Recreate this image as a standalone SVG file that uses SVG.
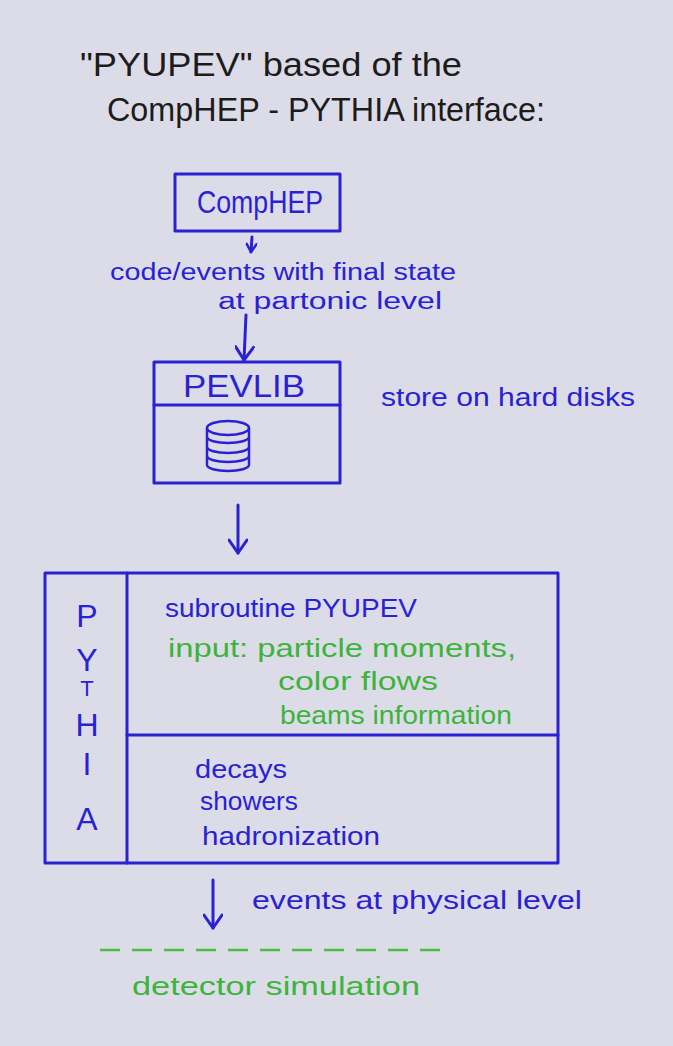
<svg xmlns="http://www.w3.org/2000/svg" width="673" height="1046" viewBox="0 0 673 1046">
<style>
  .bg { fill: #dcdce8; }
  .box { fill: none; stroke: #2a22d2; stroke-width: 3; stroke-linejoin: round; }
  .line { fill: none; stroke: #2a22d2; stroke-width: 3; stroke-linecap: round; }
  .dash { fill: none; stroke: #45c045; stroke-width: 2.5; stroke-dasharray: 20 12; }
  .t { font-family: "Liberation Sans", "DejaVu Sans", sans-serif; }
  .blk { fill: #1c1c1c; font-size: 34px; }
  .blu { fill: #2a22d2; font-size: 26px; }
  .sm { font-size: 23px; }
  .grn { fill: #3cb43c; font-size: 26px; }
  .big { fill: #2a22d2; font-size: 32px; }
</style>
<defs>
  <marker id="ah" viewBox="0 0 12 12" refX="11" refY="6" markerWidth="12" markerHeight="12" markerUnits="userSpaceOnUse" orient="auto">
    <path d="M3,1 L11,6 L3,11" fill="none" stroke="#2a22d2" stroke-width="2.5" stroke-linecap="round" stroke-linejoin="round"/>
  </marker>
  <marker id="ahL" viewBox="0 0 20 20" refX="18" refY="10" markerWidth="20" markerHeight="20" markerUnits="userSpaceOnUse" orient="auto">
    <path d="M5,1 L18,10 L5,19" fill="none" stroke="#2a22d2" stroke-width="3" stroke-linecap="round" stroke-linejoin="round"/>
  </marker>
</defs>
<rect class="bg" x="0" y="0" width="673" height="1046"/>

<g id="title">
  <text class="t blk" x="80" y="76" textLength="382" lengthAdjust="spacingAndGlyphs">"PYUPEV"  based  of  the</text>
  <text class="t blk" x="107" y="121" textLength="438" lengthAdjust="spacingAndGlyphs">CompHEP - PYTHIA  interface:</text>
</g>

<g id="comphep">
  <rect class="box" x="175" y="174" width="165" height="57"/>
  <text class="t big" x="197" y="213" font-size="28" textLength="126" lengthAdjust="spacingAndGlyphs">CompHEP</text>
</g>

<g id="pevlib">
  <rect class="box" x="154" y="362" width="186" height="121"/>
  <line class="line" x1="154" y1="405" x2="340" y2="405"/>
  <text class="t big" x="183" y="397" textLength="122" lengthAdjust="spacingAndGlyphs">PEVLIB</text>
  <g id="database" fill="none" stroke="#2a22d2" stroke-width="2.5">
    <ellipse cx="228" cy="428" rx="21" ry="7"/>
    <path d="M207,428 L207,465 M249,428 L249,465"/>
    <path d="M207,437 A21,6 0 0 0 249,437"/>
    <path d="M207,447 A21,6 0 0 0 249,447"/>
    <path d="M207,456 A21,6 0 0 0 249,456"/>
    <path d="M207,465 A21,6 0 0 0 249,465"/>
  </g>
</g>
<g id="store-label">
  <text class="t blu" x="381" y="406" textLength="254" lengthAdjust="spacingAndGlyphs">store  on hard  disks</text>
</g>

<g id="pythia">
  <rect class="box" x="45" y="573" width="513" height="290"/>
  <line class="line" x1="127" y1="573" x2="127" y2="863"/>
  <line class="line" x1="127" y1="735" x2="558" y2="735"/>
  <g class="t big" text-anchor="middle">
    <text x="87" y="627">P</text>
    <text x="87" y="671">Y</text>
    <text x="87" y="696" font-size="22">T</text>
    <text x="87" y="736">H</text>
    <text x="87" y="775">I</text>
    <text x="87" y="830">A</text>
  </g>
  <text class="t blu" x="165" y="617" textLength="252" lengthAdjust="spacingAndGlyphs">subroutine  PYUPEV</text>
  <text class="t grn" x="168" y="657" textLength="348" lengthAdjust="spacingAndGlyphs">input:  particle  moments,</text>
  <text class="t grn" x="278" y="690" textLength="160" lengthAdjust="spacingAndGlyphs">color  flows</text>
  <text class="t grn" x="280" y="724" textLength="232" lengthAdjust="spacingAndGlyphs">beams information</text>
  <text class="t blu" x="195" y="778" textLength="92" lengthAdjust="spacingAndGlyphs">decays</text>
  <text class="t blu" x="200" y="810" textLength="98" lengthAdjust="spacingAndGlyphs">showers</text>
  <text class="t blu" x="202" y="845" textLength="178" lengthAdjust="spacingAndGlyphs">hadronization</text>
</g>

<g id="detector">
  <line class="dash" x1="100" y1="950" x2="440" y2="950"/>
  <text class="t grn" x="132" y="995" textLength="288" lengthAdjust="spacingAndGlyphs">detector  simulation</text>
</g>

<g id="connectors">
  <line class="line" x1="252" y1="237" x2="251" y2="252" marker-end="url(#ah)"/>
  <text class="t blu sm" x="110" y="280" textLength="346" lengthAdjust="spacingAndGlyphs">code/events  with final  state</text>
  <text class="t blu sm" x="218" y="309" textLength="224" lengthAdjust="spacingAndGlyphs">at  partonic  level</text>
  <line class="line" x1="246" y1="315" x2="244" y2="360" marker-end="url(#ahL)"/>
  <line class="line" x1="238" y1="505" x2="238" y2="553" marker-end="url(#ahL)"/>
  <line class="line" x1="213" y1="880" x2="213" y2="928" marker-end="url(#ahL)"/>
  <text class="t blu" x="252" y="909" textLength="330" lengthAdjust="spacingAndGlyphs">events  at  physical  level</text>
</g>
</svg>
